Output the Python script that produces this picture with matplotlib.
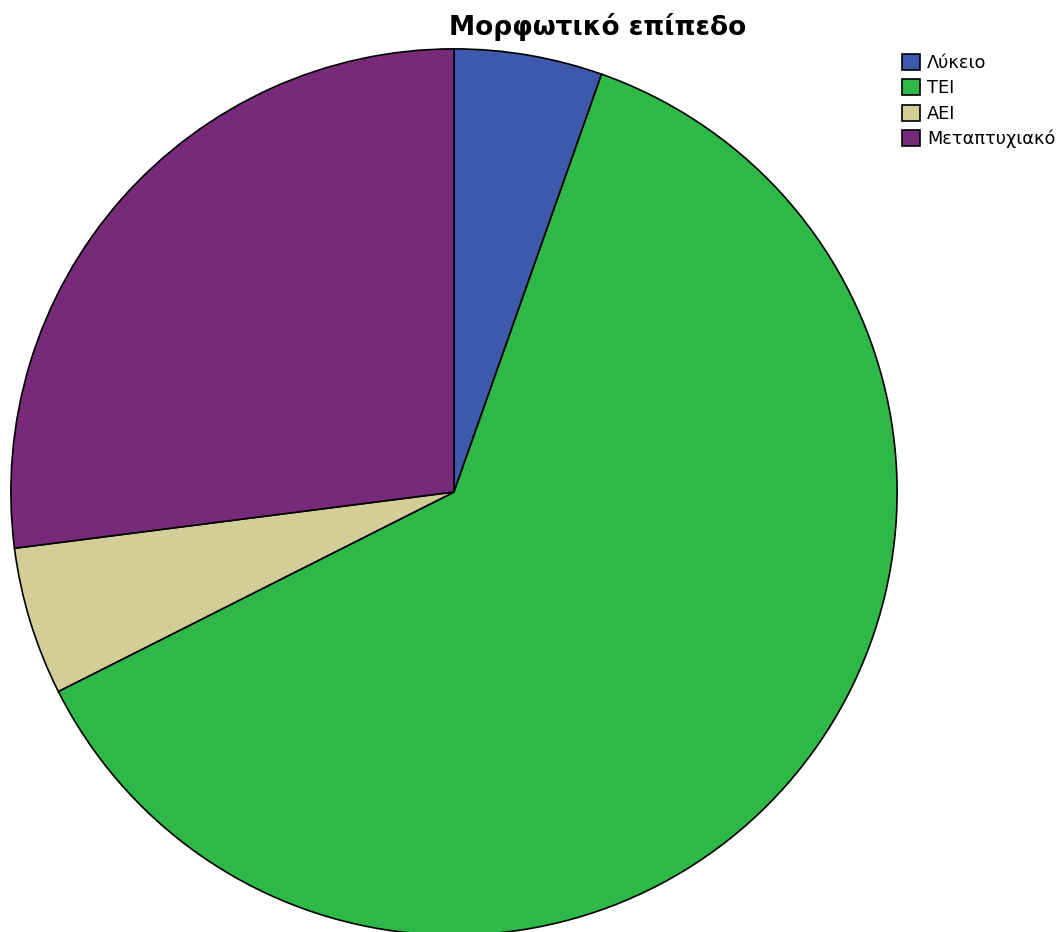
import matplotlib
matplotlib.use("Agg")
import matplotlib.pyplot as plt

# education level counts
labels = ["Λύκειο", "ΤΕΙ", "ΑΕΙ", "Μεταπτυχιακό"]
counts = [2, 23, 2, 10]
colors = ["#3e58ac", "#2eb848", "#d3ce97", "#782a7a"]

W, H = 1057, 932
fig = plt.figure(figsize=(W / 100, H / 100), dpi=100)

# pie box in pixels: x 10..898, y 48..936 (image coords)
ax = fig.add_axes([10 / W, (H - 936) / H, 888 / W, 888 / H])
wedges, _ = ax.pie(counts, colors=colors, startangle=90, counterclock=False,
                   radius=1.0, wedgeprops=dict(edgecolor="black", linewidth=1.2))
ax.set_xlim(-1.002, 1.002)
ax.set_ylim(-1.002, 1.002)
ax.set_aspect("equal")
ax.axis("off")

fig.text(598 / W, 1 - 27 / H, "Μορφωτικό επίπεδο", ha="center", va="center",
         fontsize=19, fontweight="bold", family="DejaVu Sans")

fig.legend(wedges, labels, loc="upper left", bbox_to_anchor=(902 / W, 1 - 54 / H),
           frameon=False, prop={"family": "DejaVu Sans", "size": 12.8},
           handlelength=1.0, handleheight=1.0,
           labelspacing=0.41, handletextpad=0.4, borderpad=0, borderaxespad=0)

fig.savefig("out.png", dpi=100)
